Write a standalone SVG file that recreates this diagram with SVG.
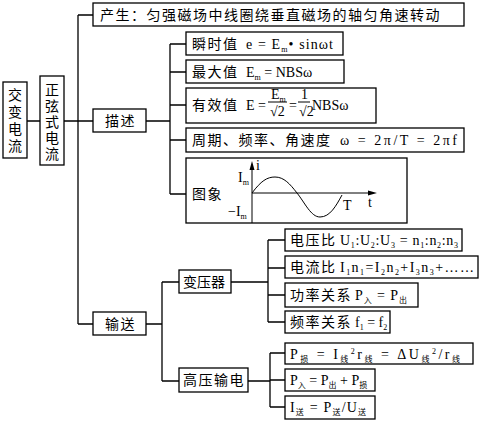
<svg xmlns="http://www.w3.org/2000/svg" width="480" height="421" viewBox="0 0 480 421">
<style>
.b{fill:#fff;stroke:#000;stroke-width:1.3}
.c{fill:none;stroke:#000;stroke-width:1.3}
text{font-family:"Liberation Serif","Noto Sans CJK SC",serif;font-size:14px;fill:#000}
.k{letter-spacing:1.5px}
.s{font-size:8px}
.t{fill:none;stroke:#000;stroke-width:1}
</style>
<rect width="480" height="421" fill="#fff"/>
<g id="connectors" class="c">
<path d="M27 121H40M64 121H93M78 15V324M78 15H93M78 324H93"/>
<path d="M146 121H170M170 44V194M170 44H186M170 72H186M170 105H186M170 140H186M170 194H186"/>
<path d="M146 324H162M162 282V381M162 282H179M162 381H179"/>
<path d="M231 282H268M268 240V322M268 240H285M268 268H285M268 295H285M268 322H285"/>
<path d="M248 381H270M270 353V407M270 353H285M270 380H285M270 407H285"/>
</g>
<g id="n-jiaobian">
<rect class="b" x="3" y="82" width="24" height="76"/>
<text x="8 8 8 8" y="100 117 134 151">交变电流</text>
</g>
<g id="n-zhengxian">
<rect class="b" x="40" y="76" width="24" height="89"/>
<text x="45 45 45 45 45" y="95 111 127 143 159">正弦式电流</text>
</g>
<g id="n-chansheng">
<rect class="b" x="93" y="3" width="371" height="23"/>
<text class="k" x="100" y="20">产生：匀强磁场中线圈绕垂直磁场的轴匀角速转动</text>
</g>
<g id="n-miaoshu">
<rect class="b" x="93" y="109" width="53" height="23"/>
<text class="k" x="105" y="126">描述</text>
</g>
<g id="n-shunshi">
<rect class="b" x="186" y="32" width="157" height="23"/>
<text class="k" x="192" y="49">瞬时值</text>
<text x="246" y="49" textLength="87" lengthAdjust="spacing">e = E<tspan class="s" dy="3">m</tspan><tspan dy="-3">• sinωt</tspan></text>
</g>
<g id="n-zuida">
<rect class="b" x="186" y="60" width="158" height="23"/>
<text class="k" x="192" y="77">最大值</text>
<text x="246" y="77">E<tspan class="s" dy="3">m</tspan><tspan dy="-3"> = NBSω</tspan></text>
</g>
<g id="n-youxiao">
<rect class="b" x="186" y="88" width="190" height="35"/>
<text class="k" x="192" y="110">有效值</text>
<text x="246" y="110">E =</text>
<text x="271" y="99">E<tspan class="s" dy="3">m</tspan></text>
<path class="t" d="M268 102H287M298 102H310"/>
<text x="270" y="116">√2</text>
<text x="289" y="110">=</text>
<text x="301" y="99">1</text>
<text x="299" y="116">√2</text>
<text x="312" y="110">NBSω</text>
</g>
<g id="n-zhouqi">
<rect class="b" x="186" y="128" width="278" height="24"/>
<text class="k" x="192" y="145">周期、频率、角速度</text>
<text x="340" y="145" textLength="117" lengthAdjust="spacing">ω = 2π/T = 2πf</text>
</g>
<g id="n-tuxiang">
<rect class="b" x="186" y="158" width="221" height="65"/>
<text class="k" x="192" y="199">图象</text>
<path class="t" d="M252 223V168M252 193H370"/>
<path d="M252 161L249.5 170H254.5Z M377 193L368 190.5V195.5Z"/>
<path class="t" d="M252 193C261 181 267 177 275 177C284 177 290 184 297 193C305 203 311 217 320 217C330 217 336 206 342 195"/>
<text x="256" y="170" font-size="13">i</text>
<text x="368" y="207" font-size="13">t</text>
<text x="343" y="210" font-size="13">T</text>
<text x="238" y="182" font-size="13">I<tspan class="s" dy="3">m</tspan></text>
<text x="228" y="216" font-size="13">−I<tspan class="s" dy="3">m</tspan></text>
</g>
<g id="n-shusong">
<rect class="b" x="93" y="312" width="53" height="23"/>
<text class="k" x="105" y="329">输送</text>
</g>
<g id="n-bianyaqi">
<rect class="b" x="179" y="270" width="52" height="23"/>
<text x="183" y="287">变压器</text>
</g>
<g id="n-dianyabi">
<rect class="b" x="285" y="229" width="177" height="22"/>
<text class="k" x="290" y="245">电压比</text>
<text x="340" y="245" textLength="118" lengthAdjust="spacing">U<tspan class="s" dy="3">1</tspan><tspan dy="-3">:U</tspan><tspan class="s" dy="3">2</tspan><tspan dy="-3">:U</tspan><tspan class="s" dy="3">3</tspan><tspan dy="-3"> = n</tspan><tspan class="s" dy="3">1</tspan><tspan dy="-3">:n</tspan><tspan class="s" dy="3">2</tspan><tspan dy="-3">:n</tspan><tspan class="s" dy="3">3</tspan></text>
</g>
<g id="n-dianliubi">
<rect class="b" x="285" y="256" width="193" height="22"/>
<text class="k" x="290" y="272">电流比</text>
<text x="340" y="272" textLength="134" lengthAdjust="spacing">I<tspan class="s" dy="3">1</tspan><tspan dy="-3">n</tspan><tspan class="s" dy="3">1</tspan><tspan dy="-3">=I</tspan><tspan class="s" dy="3">2</tspan><tspan dy="-3">n</tspan><tspan class="s" dy="3">2</tspan><tspan dy="-3">+I</tspan><tspan class="s" dy="3">3</tspan><tspan dy="-3">n</tspan><tspan class="s" dy="3">3</tspan><tspan dy="-3">+……</tspan></text>
</g>
<g id="n-gonglv">
<rect class="b" x="285" y="283" width="133" height="24"/>
<text class="k" x="290" y="300">功率关系</text>
<text x="355" y="300" textLength="52" lengthAdjust="spacing">P<tspan class="s" dy="3">入</tspan><tspan dy="-3"> = P</tspan><tspan class="s" dy="3">出</tspan></text>
</g>
<g id="n-pinlv">
<rect class="b" x="285" y="311" width="105" height="22"/>
<text class="k" x="290" y="327">频率关系</text>
<text x="355" y="327">f<tspan class="s" dy="3">1</tspan><tspan dy="-3"> = f</tspan><tspan class="s" dy="3">2</tspan></text>
</g>
<g id="n-gaoya">
<rect class="b" x="179" y="368" width="69" height="24"/>
<text class="k" x="183" y="385">高压输电</text>
</g>
<g id="n-psun">
<rect class="b" x="285" y="343" width="188" height="21"/>
<text x="290" y="359" textLength="170" lengthAdjust="spacing">P<tspan class="s" dy="3">损</tspan><tspan dy="-3"> = I</tspan><tspan class="s" dy="3">线</tspan><tspan class="s" dy="-8">2</tspan><tspan dy="5">r</tspan><tspan class="s" dy="3">线</tspan><tspan dy="-3"> = ΔU</tspan><tspan class="s" dy="3">线</tspan><tspan class="s" dy="-8">2</tspan><tspan dy="5">/r</tspan><tspan class="s" dy="3">线</tspan></text>
</g>
<g id="n-pru">
<rect class="b" x="285" y="369" width="90" height="22"/>
<text x="290" y="385">P<tspan class="s" dy="3">入</tspan><tspan dy="-3"> = P</tspan><tspan class="s" dy="3">出</tspan><tspan dy="-3"> + P</tspan><tspan class="s" dy="3">损</tspan></text>
</g>
<g id="n-isong">
<rect class="b" x="285" y="396" width="90" height="23"/>
<text x="290" y="412" textLength="76" lengthAdjust="spacing">I<tspan class="s" dy="3">送</tspan><tspan dy="-3"> = P</tspan><tspan class="s" dy="3">送</tspan><tspan dy="-3">/U</tspan><tspan class="s" dy="3">送</tspan></text>
</g>
</svg>
